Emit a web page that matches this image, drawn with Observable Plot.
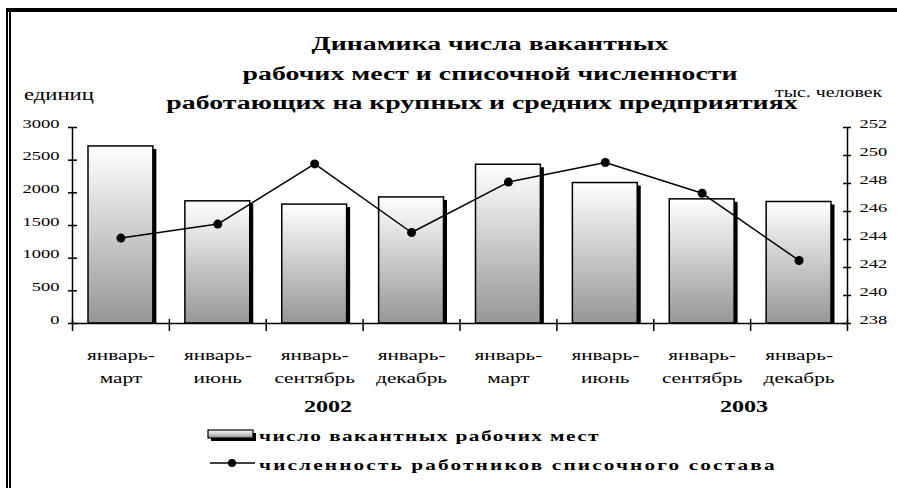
<!DOCTYPE html>
<html><head><meta charset="utf-8">
<script src="https://cdn.jsdelivr.net/npm/d3@7"></script>
<script src="https://cdn.jsdelivr.net/npm/@observablehq/plot@0.6"></script>
<style>body{margin:0;background:#fff} svg{display:block}</style>
</head><body><div id="chart"></div>
<script>
// ---- data ----
const periods = ["январь-\nмарт","январь-\nиюнь","январь-\nсентябрь","январь-\nдекабрь","январь-\nмарт","январь-\nиюнь","январь-\nсентябрь","январь-\nдекабрь"];
const vacancies = [2710, 1870, 1820, 1930, 2430, 2150, 1900, 1860];
const employees = [244.1, 245.1, 249.4, 244.5, 248.1, 249.5, 247.3, 242.5];
const leftTicks = [0, 500, 1000, 1500, 2000, 2500, 3000];
const rightTicks = [238, 240, 242, 244, 246, 248, 250, 252];
const years = ["2002", "2003"];
const titleLines = ["Динамика числа вакантных", "рабочих мест и списочной численности", "работающих на крупных и средних предприятиях"];
const leftUnit = "единиц";
const rightUnit = "тыс. человек";
const legendLabels = ["число вакантных рабочих мест", "численность работников списочного состава"];

// ---- build ----
const K = 1.42; // horizontal text stretch of the original
const FONT = "'Liberation Serif','Times New Roman',serif";
const rows = periods.map((p, i) => ({i, p, vac: vacancies[i], emp: employees[i]}));
const toLeft = d3.scaleLinear([238, 252], [0, 3000]);
const boundaries = d3.range(periods.length + 1);

const chart = Plot.plot({
  width: 897, height: 488,
  marginTop: 127, marginBottom: 165, marginLeft: 72, marginRight: 50,
  style: {fontFamily: FONT, fontSize: "13px", background: "#fff", overflow: "visible"},
  x: {domain: [0, periods.length], axis: null},
  y: {domain: [0, 3000], axis: null},
  marks: [
    // bar shadows
    Plot.rectY(rows, {x1: "i", x2: d => d.i + 1, y1: 0, y2: "vac", insetLeft: 16, insetRight: 16, insetBottom: 3, dx: 3.5, dy: 3, fill: "#000"}),
    // bars
    Plot.rectY(rows, {x1: "i", x2: d => d.i + 1, y1: 0, y2: "vac", insetLeft: 16, insetRight: 16, fill: "url(#barGrad)", stroke: "#000", strokeWidth: 1.5}),
    // axes lines
    Plot.ruleY([0], {stroke: "#000", strokeWidth: 1.5}),
    Plot.ruleX([0, periods.length], {stroke: "#000", strokeWidth: 1.5}),
    // category boundary ticks
    Plot.ruleX(boundaries, {x: d => d, y1: 0, y2: 0, insetTop: -4, insetBottom: -8, stroke: "#000", strokeWidth: 1.5}),
    // left ticks
    Plot.ruleY(leftTicks, {y: d => d, x1: 0, x2: 0, insetLeft: -4, insetRight: -5, stroke: "#000", strokeWidth: 1.5}),
    // right ticks
    Plot.ruleY(rightTicks, {y: d => toLeft(d), x1: periods.length, x2: periods.length, insetLeft: -4, insetRight: -4, stroke: "#000", strokeWidth: 1.5}),
    Plot.axisY(leftTicks, {anchor: "left", label: null, tickSize: 0, tickPadding: 13, fontSize: 13, tickFormat: d => String(d)}),
    Plot.axisY(rightTicks.map(d => toLeft(d)), {anchor: "right", label: null, tickSize: 0, tickPadding: 12, fontSize: 13, tickFormat: v => String(Math.round(toLeft.invert(v)))}),
    // category labels
    Plot.text(rows, {x: d => d.i + 0.5, y: 0, text: "p", dy: 21, lineAnchor: "top", lineHeight: 1.5, fontSize: 15, fill: "#000"}),
    // line series
    Plot.line(rows, {x: d => d.i + 0.5, y: d => toLeft(d.emp), stroke: "#000", strokeWidth: 1.5}),
    Plot.dot(rows, {x: d => d.i + 0.5, y: d => toLeft(d.emp), r: 4.5, fill: "#000", stroke: "none"})
  ]
});

const svg = d3.select(chart);
const defs = svg.insert("defs", ":first-child");
const g1 = defs.append("linearGradient").attr("id", "barGrad").attr("x1", 0).attr("y1", 0).attr("x2", 0).attr("y2", 1);
g1.append("stop").attr("offset", "0%").attr("stop-color", "#ffffff");
g1.append("stop").attr("offset", "100%").attr("stop-color", "#969696");

// frame
svg.append("rect").attr("x", 6).attr("y", 8).attr("width", 891).attr("height", 4).attr("fill", "#000");
svg.append("rect").attr("x", 6).attr("y", 8).attr("width", 2).attr("height", 480).attr("fill", "#000");
svg.append("rect").attr("x", 9).attr("y", 11).attr("width", 2).attr("height", 477).attr("fill", "#000");

const ann = svg.append("g").attr("font-family", FONT).attr("fill", "#000").attr("text-anchor", "start");
// title
[[490, 50], [490, 80], [482, 109]].forEach(([x, y], k) => {
  ann.append("text").attr("transform", `translate(${x},${y})`).attr("text-anchor", "middle")
    .attr("font-size", 19.6).attr("font-weight", "bold").text(titleLines[k]);
});
ann.append("text").attr("transform", "translate(24,100)").attr("font-size", 16).text(leftUnit);
ann.append("text").attr("transform", "translate(775,97)").attr("font-size", 14).text(rightUnit);
// years
[[328, years[0]], [744, years[1]]].forEach(([x, t]) => {
  ann.append("text").attr("transform", `translate(${x},412)`).attr("text-anchor", "middle")
    .attr("font-size", 17).attr("font-weight", "bold").text(t);
});
// legend
const lg = svg.append("g");
lg.append("rect").attr("x", 211).attr("y", 433).attr("width", 45).attr("height", 8).attr("fill", "#000");
lg.append("rect").attr("x", 208).attr("y", 430).attr("width", 45).attr("height", 8).attr("fill", "url(#barGrad)").attr("stroke", "#000").attr("stroke-width", 1.2);
lg.append("line").attr("x1", 210).attr("x2", 255).attr("y1", 463).attr("y2", 463).attr("stroke", "#000").attr("stroke-width", 1.5);
lg.append("circle").attr("cx", 232).attr("cy", 463).attr("r", 4).attr("fill", "#000");
[[441, 1], [470, 1.5]].forEach(([y, ls], k) => {
  ann.append("text").attr("transform", `translate(259,${y})`).attr("font-size", 15).attr("font-weight", "bold")
    .attr("letter-spacing", ls).text(legendLabels[k]);
});

// horizontal stretch of all text
chart.querySelectorAll("text").forEach(t => {
  const tr = t.getAttribute("transform") || "";
  const x = t.getAttribute("x"), y = t.getAttribute("y");
  let extra = "";
  if (x != null || y != null) { extra = `translate(${+x || 0},${+y || 0})`; t.removeAttribute("x"); t.removeAttribute("y"); }
  t.setAttribute("transform", `${tr} ${extra} scale(${K},1)`);
});

document.getElementById("chart").appendChild(chart);
</script>
</body></html>
